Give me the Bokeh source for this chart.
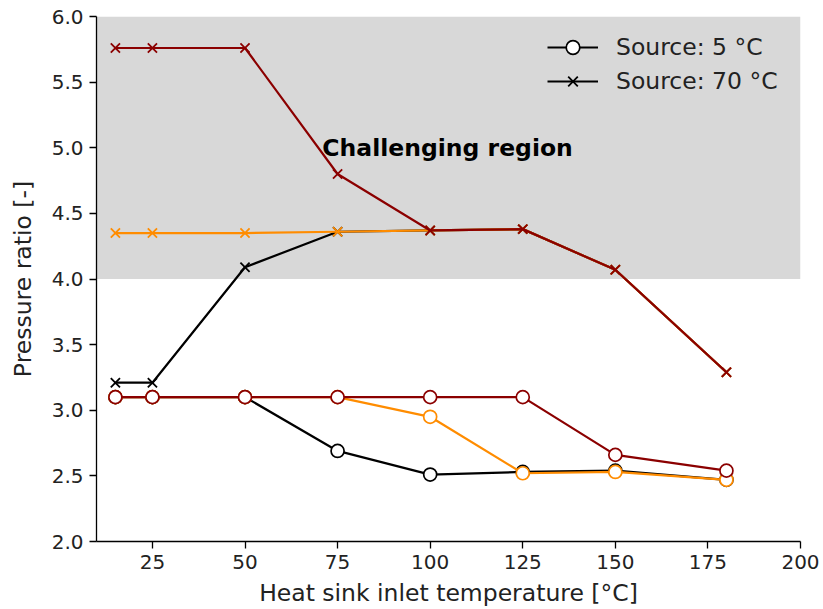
from bokeh.plotting import figure
from bokeh.models import (Range1d, BoxAnnotation, Label, Legend, LegendItem,
                          FixedTicker, NumeralTickFormatter, ColumnDataSource)
from bokeh.embed import file_html
from bokeh.resources import INLINE

# ---- data ----
sink_temp = [15, 25, 50, 75, 100, 125, 150, 180]
colors = ["black", "darkorange", "darkred"]

src5_black = [3.10, 3.10, 3.10, 2.69, 2.51, 2.53, 2.54, 2.47]
src5_orange = [3.10, 3.10, 3.10, 3.10, 2.95, 2.52, 2.53, 2.47]
src5_red = [3.10, 3.10, 3.10, 3.10, 3.10, 3.10, 2.66, 2.54]

src70_black = [3.21, 3.21, 4.09, 4.36, 4.37, 4.38, 4.07, 3.29]
src70_orange = [4.35, 4.35, 4.35, 4.36, 4.37, 4.38, 4.07, 3.29]
src70_red = [5.76, 5.76, 5.76, 4.80, 4.37, 4.38, 4.07, 3.29]

x_ticks = [25, 50, 75, 100, 125, 150, 175, 200]
y_ticks = [2.0, 2.5, 3.0, 3.5, 4.0, 4.5, 5.0, 5.5, 6.0]

FONT = "DejaVu Sans"

p = figure(width=823, height=609, output_backend="svg", toolbar_location=None,
           x_range=Range1d(9.9, 200), y_range=Range1d(2, 6),
           min_border_left=96, min_border_right=23, min_border_top=16,
           min_border_bottom=66)
p.outline_line_color = None
p.xgrid.visible = False
p.ygrid.visible = False

p.add_layout(BoxAnnotation(bottom=4, top=6, fill_color="#d8d8d8", fill_alpha=1,
                           line_alpha=0, level="underlay"))

legend_r5 = []
legend_r70 = []
for col, s5, s70 in zip(colors, [src5_black, src5_orange, src5_red],
                        [src70_black, src70_orange, src70_red]):
    src_a = ColumnDataSource(dict(x=sink_temp, y=s5))
    l5 = p.line("x", "y", source=src_a, line_color=col, line_width=2.2)
    m5 = p.scatter("x", "y", source=src_a, marker="circle", size=13,
                   fill_color="white", line_color=col, line_width=1.7)
    src_b = ColumnDataSource(dict(x=sink_temp, y=s70))
    l70 = p.line("x", "y", source=src_b, line_color=col, line_width=2.2)
    m70 = p.scatter("x", "y", source=src_b, marker="x", size=13,
                    line_color=col, line_width=1.8)
    if col == "black":
        legend_r5 = [l5, m5]
        legend_r70 = [l70, m70]

p.add_layout(Label(x=104.7, y=5.0, text="Challenging region", text_align="center",
                   text_baseline="middle", text_font_style="bold",
                   text_font_size="23.5px", text_font=FONT, text_color="black"))

legend = Legend(items=[LegendItem(label="Source: 5 °C", renderers=legend_r5),
                       LegendItem(label="Source: 70 °C", renderers=legend_r70)],
                location=(447, 439), background_fill_alpha=0,
                border_line_alpha=0, glyph_width=51, glyph_height=34,
                label_height=34, label_standoff=18, spacing=0, margin=0,
                padding=4, label_text_font=FONT, label_text_font_size="23.5px",
                label_text_color="#222222")
p.add_layout(legend)

for ax in (p.xaxis[0], p.yaxis[0]):
    ax.major_label_text_font = FONT
    ax.major_label_text_font_size = "20px"
    ax.major_label_text_color = "#222222"
    ax.axis_label_text_font = FONT
    ax.axis_label_text_font_size = "23.5px"
    ax.axis_label_text_font_style = "normal"
    ax.axis_label_text_color = "#222222"
    ax.major_tick_out = 7
    ax.major_tick_in = 0
    ax.minor_tick_out = 0
    ax.minor_tick_in = 0
    ax.axis_line_width = 1.3
    ax.major_tick_line_width = 1.3
    ax.major_label_standoff = 6
    ax.axis_label_standoff = 7

p.yaxis[0].axis_label_standoff = 12

p.xaxis[0].ticker = FixedTicker(ticks=x_ticks)
p.yaxis[0].ticker = FixedTicker(ticks=y_ticks)
p.yaxis[0].formatter = NumeralTickFormatter(format="0.0")
p.xaxis[0].axis_label = "Heat sink inlet temperature [°C]"
p.yaxis[0].axis_label = "Pressure ratio [-]"

open("out.html", "w").write(file_html(p, INLINE))
